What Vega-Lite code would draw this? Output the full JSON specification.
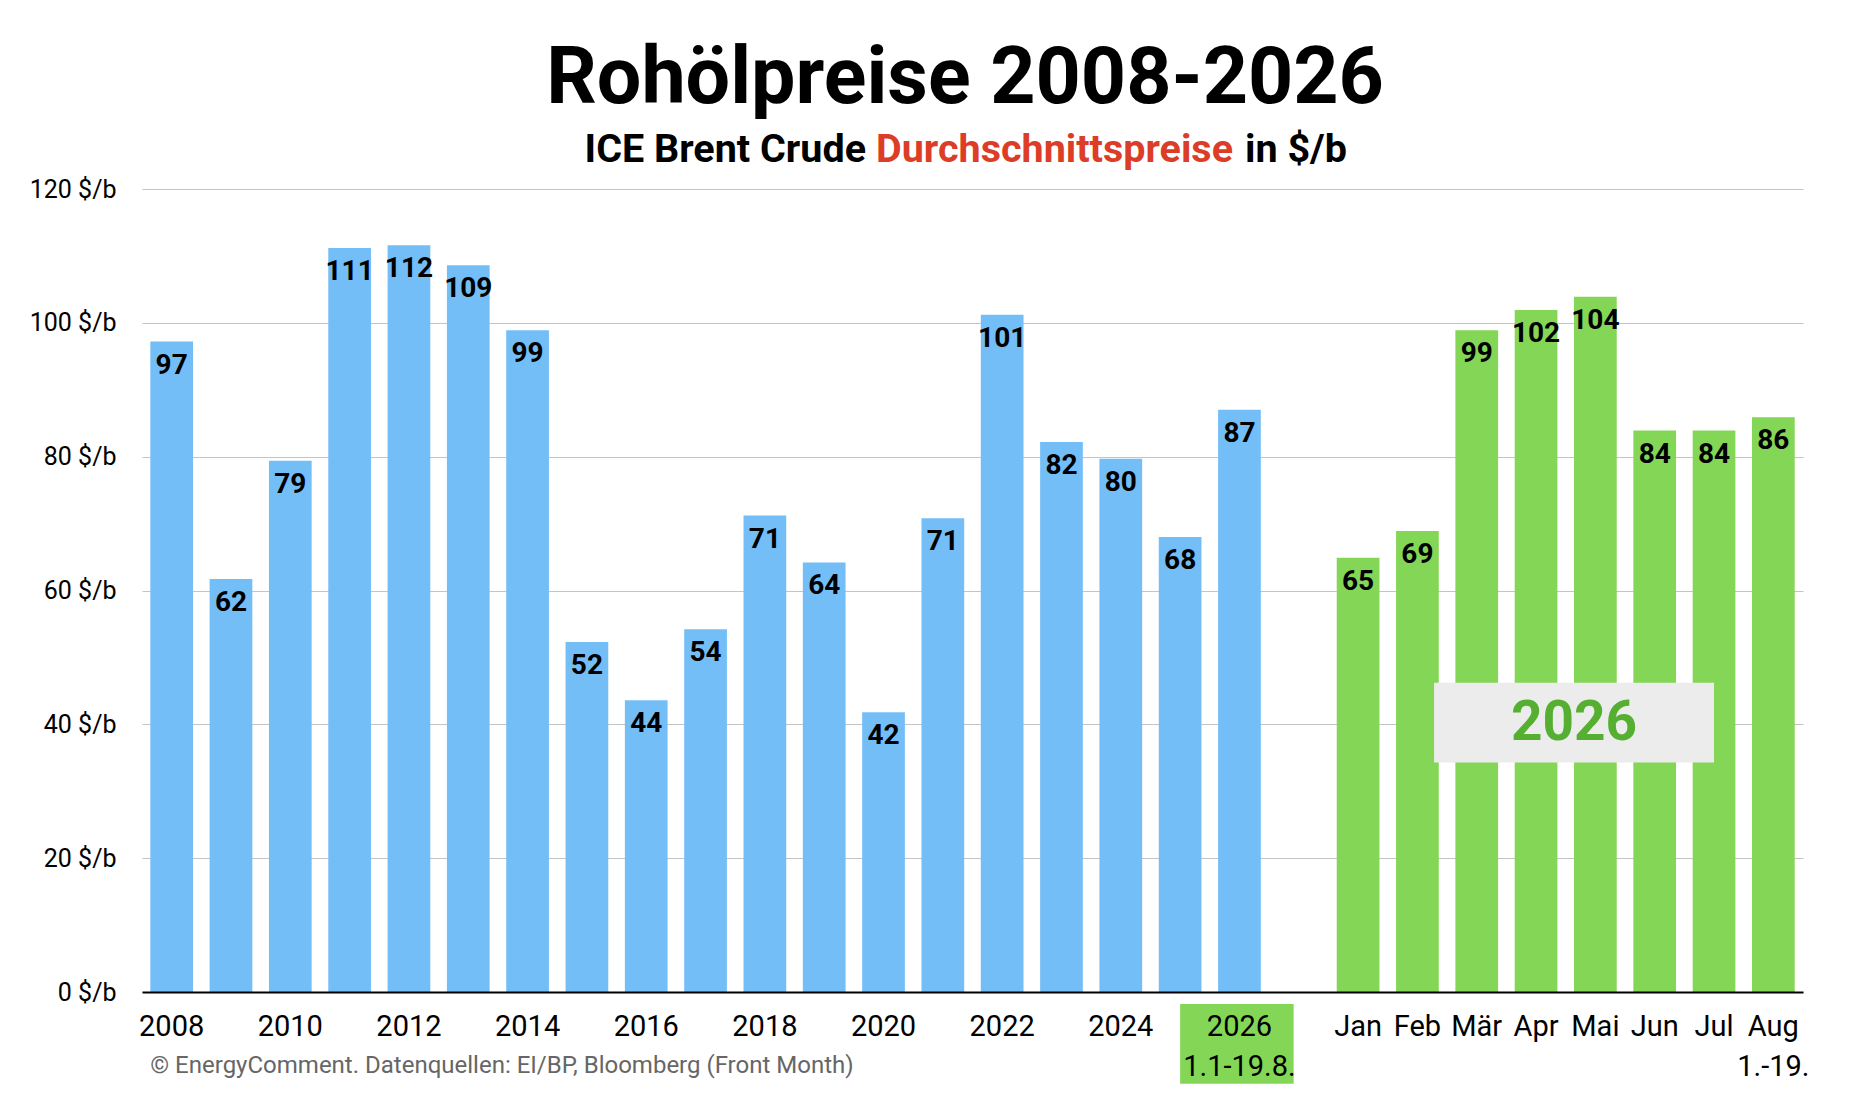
{
  "$schema": "https://vega.github.io/schema/vega-lite/v6.json",
  "width": 1661,
  "height": 803,
  "autosize": {"type": "none"},
  "padding": {"left": 142, "top": 189, "right": 49, "bottom": 124},
  "background": "white",
  "data": {
    "values": [
      {"key": "2008", "value": 97.2, "group": "Jahr"},
      {"key": "2009", "value": 61.7, "group": "Jahr"},
      {"key": "2010", "value": 79.4, "group": "Jahr"},
      {"key": "2011", "value": 111.2, "group": "Jahr"},
      {"key": "2012", "value": 111.6, "group": "Jahr"},
      {"key": "2013", "value": 108.6, "group": "Jahr"},
      {"key": "2014", "value": 98.9, "group": "Jahr"},
      {"key": "2015", "value": 52.3, "group": "Jahr"},
      {"key": "2016", "value": 43.6, "group": "Jahr"},
      {"key": "2017", "value": 54.2, "group": "Jahr"},
      {"key": "2018", "value": 71.2, "group": "Jahr"},
      {"key": "2019", "value": 64.2, "group": "Jahr"},
      {"key": "2020", "value": 41.8, "group": "Jahr"},
      {"key": "2021", "value": 70.8, "group": "Jahr"},
      {"key": "2022", "value": 101.2, "group": "Jahr"},
      {"key": "2023", "value": 82.2, "group": "Jahr"},
      {"key": "2024", "value": 79.7, "group": "Jahr"},
      {"key": "2025", "value": 68.0, "group": "Jahr"},
      {"key": "2026", "value": 87.0, "group": "Jahr"},
      {"key": "Jan", "value": 64.9, "group": "Monat"},
      {"key": "Feb", "value": 68.9, "group": "Monat"},
      {"key": "Mär", "value": 98.9, "group": "Monat"},
      {"key": "Apr", "value": 101.9, "group": "Monat"},
      {"key": "Mai", "value": 103.9, "group": "Monat"},
      {"key": "Jun", "value": 83.9, "group": "Monat"},
      {"key": "Jul", "value": 83.9, "group": "Monat"},
      {"key": "Aug", "value": 85.9, "group": "Monat"}
    ]
  },
  "layer": [
    {
      "mark": {"type": "bar"},
      "encoding": {
        "x": {
          "field": "key",
          "type": "nominal",
          "sort": null,
          "scale": {
            "domain": ["2008", "2009", "2010", "2011", "2012", "2013", "2014", "2015", "2016", "2017", "2018", "2019", "2020", "2021", "2022", "2023", "2024", "2025", "2026", " ", "Jan", "Feb", "Mär", "Apr", "Mai", "Jun", "Jul", "Aug"],
            "paddingInner": 0.28,
            "paddingOuter": 0.14
          },
          "axis": {
            "title": null,
            "zindex": 1,
            "ticks": false,
            "tickSize": 0,
            "labelPadding": 20,
            "labelFontSize": 29,
            "labelColor": "black",
            "labelAngle": 0,
            "labelLineHeight": 40,
            "labelOverlap": false,
            "labelBound": false,
            "domainColor": "black",
            "domainWidth": 2,
            "labelExpr": "datum.value == '2026' ? ['2026', '1.1-19.8.'] : datum.value == 'Aug' ? ['Aug', '1.-19.'] : (length(datum.value) == 4 && toNumber(datum.value) % 2 == 1) ? '' : datum.value"
          }
        },
        "y": {
          "field": "value",
          "type": "quantitative",
          "scale": {"domain": [0, 120], "nice": false},
          "axis": {
            "title": null,
            "values": [0, 20, 40, 60, 80, 100, 120],
            "grid": true,
            "gridColor": "#c4c4c4",
            "gridWidth": 1,
            "domain": false,
            "ticks": false,
            "tickSize": 0,
            "labelPadding": 26,
            "labelFontSize": 25,
            "labelColor": "black",
            "labelExpr": "datum.value + ' $/b'"
          }
        },
        "color": {
          "field": "group",
          "type": "nominal",
          "scale": {"domain": ["Jahr", "Monat"], "range": ["#74bef8", "#84d656"]},
          "legend": null
        }
      }
    },
    {
      "data": {"values": [{}]},
      "mark": {"type": "rect", "color": "#ececec"},
      "encoding": {
        "x": {"datum": "Feb", "type": "nominal", "bandPosition": 0.89},
        "x2": {"datum": "Jul", "bandPosition": 0.5},
        "y": {"datum": 46.2, "type": "quantitative"},
        "y2": {"datum": 34.3}
      }
    },
    {
      "data": {"values": [{}]},
      "mark": {"type": "text", "font": "Roboto", "fontWeight": "bold", "fontSize": 55, "color": "#55b032", "align": "center", "baseline": "middle"},
      "encoding": {
        "x": {"datum": "Mai", "type": "nominal", "bandPosition": 0},
        "y": {"datum": 40.25, "type": "quantitative"},
        "text": {"value": "2026"}
      }
    },
    {
      "mark": {"type": "text", "font": "Roboto", "fontWeight": "bold", "fontSize": 28, "color": "black", "align": "center", "baseline": "top", "dy": 10},
      "encoding": {
        "x": {"field": "key", "type": "nominal"},
        "y": {"field": "value", "type": "quantitative"},
        "text": {"field": "value", "type": "quantitative", "format": ".0f"}
      }
    },
    {
      "data": {"values": [{}]},
      "mark": {"type": "rect", "color": "#84d656"},
      "encoding": {
        "x": {"datum": "2025", "type": "nominal", "bandPosition": 0.5},
        "x2": {"datum": " ", "bandPosition": 0.38},
        "y": {"datum": -1.8, "type": "quantitative"},
        "y2": {"datum": -13.7}
      }
    },
    {
      "data": {"values": [{}]},
      "mark": {"type": "text", "font": "Roboto", "fontWeight": "bold", "fontSize": 79, "color": "black", "align": "center", "baseline": "alphabetic"},
      "encoding": {
        "x": {"datum": "2021", "type": "nominal", "bandPosition": 1.02},
        "y": {"datum": 132.85, "type": "quantitative"},
        "text": {"value": "Rohölpreise 2008-2026"}
      }
    },
    {
      "data": {"values": [{}]},
      "mark": {"type": "text", "font": "Roboto", "fontWeight": "bold", "fontSize": 39.5, "color": "black", "align": "right", "baseline": "alphabetic"},
      "encoding": {
        "x": {"datum": "2020", "type": "nominal", "bandPosition": 0.09},
        "y": {"datum": 124.03, "type": "quantitative"},
        "text": {"value": "ICE Brent Crude"}
      }
    },
    {
      "data": {"values": [{}]},
      "mark": {"type": "text", "font": "Roboto", "fontWeight": "bold", "fontSize": 39.5, "color": "#dc3d27", "align": "left", "baseline": "alphabetic"},
      "encoding": {
        "x": {"datum": "2020", "type": "nominal", "bandPosition": 0.325},
        "y": {"datum": 124.03, "type": "quantitative"},
        "text": {"value": "Durchschnittspreise"}
      }
    },
    {
      "data": {"values": [{}]},
      "mark": {"type": "text", "font": "Roboto", "fontWeight": "bold", "fontSize": 39.5, "color": "black", "align": "left", "baseline": "alphabetic"},
      "encoding": {
        "x": {"datum": "2026", "type": "nominal", "bandPosition": 0.63},
        "y": {"datum": 124.03, "type": "quantitative"},
        "text": {"value": "in $/b"}
      }
    },
    {
      "data": {"values": [{}]},
      "mark": {"type": "text", "font": "Roboto", "fontSize": 24, "color": "#666666", "align": "left", "baseline": "alphabetic"},
      "encoding": {
        "x": {"datum": "2008", "type": "nominal", "bandPosition": 0},
        "y": {"datum": -12.1, "type": "quantitative"},
        "text": {"value": "© EnergyComment. Datenquellen: EI/BP, Bloomberg (Front Month)"}
      }
    }
  ],
  "config": {
    "view": {"stroke": null},
    "font": "Roboto",
    "axis": {"labelFont": "Roboto"}
  }
}
